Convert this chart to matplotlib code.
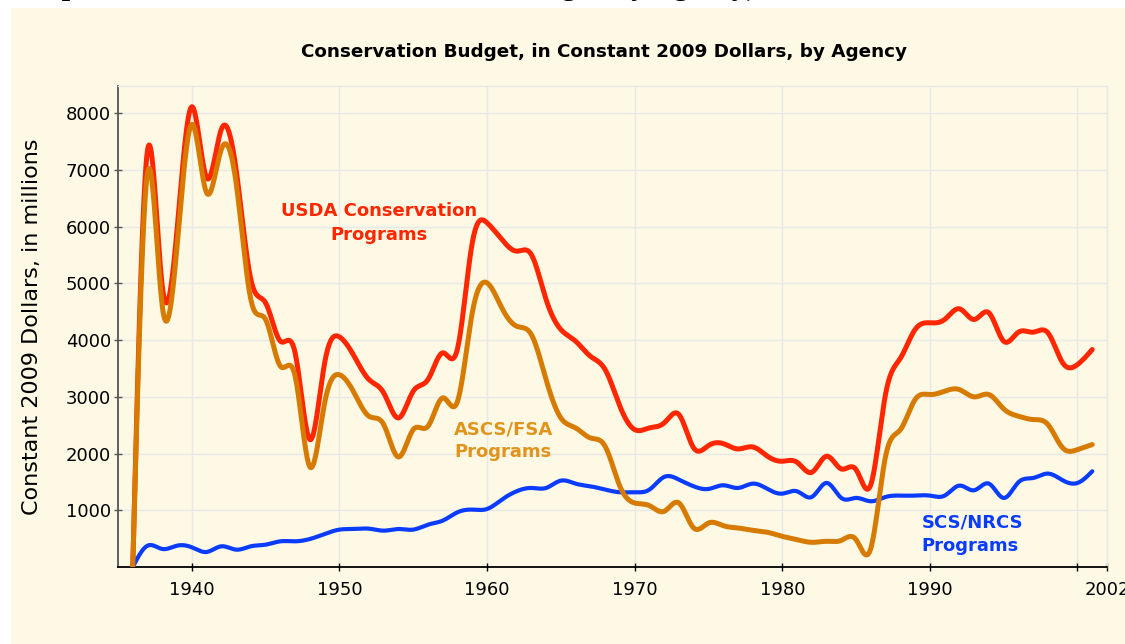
import numpy as np
import matplotlib
matplotlib.use("Agg")
import matplotlib.pyplot as plt
from matplotlib.patches import Rectangle

# ---------------- data ----------------
years = list(range(1936, 2002))

usda_total = [0, 7350, 4950, 5950, 8117, 6864, 7717, 7011, 5070, 4658,
              3982, 3776, 2247, 3600, 4058, 3717, 3306, 3070, 2629, 3100,
              3306, 3776, 3850, 5717, 6070, 5776, 5570, 5510, 4718, 4188,
              3982, 3717, 3482, 2835, 2423, 2453, 2541, 2688, 2100, 2141,
              2176, 2082, 2117, 1953, 1865, 1847, 1670, 1953, 1729, 1717,
              1453, 3050, 3680, 4188, 4306, 4365, 4553, 4365, 4482, 3982,
              4141, 4141, 4129, 3600, 3570, 3835]

ascs_fsa = [0, 6950, 4600, 5650, 7805, 6600, 7364, 6776, 4717, 4364,
            3541, 3364, 1765, 2894, 3390, 3070, 2659, 2512, 1941, 2423,
            2482, 2982, 2920, 4482, 5011, 4570, 4247, 4100, 3306, 2629,
            2453, 2276, 2129, 1423, 1129, 1082, 982, 1129, 688, 776,
            729, 688, 647, 612, 541, 482, 435, 453, 470, 482,
            330, 1953, 2420, 2953, 3041, 3100, 3129, 3000, 3041, 2788,
            2659, 2600, 2512, 2100, 2070, 2159]

scs_nrcs = [0, 376, 318, 376, 347, 265, 365, 306, 365, 394,
            453, 453, 494, 582, 659, 670, 676, 641, 670, 659,
            747, 818, 965, 1012, 1023, 1188, 1335, 1394, 1394, 1523,
            1470, 1423, 1365, 1318, 1318, 1365, 1588, 1541, 1423, 1376,
            1441, 1394, 1470, 1376, 1294, 1335, 1235, 1482, 1218, 1218,
            1159, 1235, 1259, 1259, 1259, 1259, 1435, 1353, 1470, 1218,
            1494, 1570, 1647, 1529, 1482, 1688]

ytick_vals = [1000, 2000, 3000, 4000, 5000, 6000, 7000, 8000]
xtick_vals = [1940, 1950, 1960, 1970, 1980, 1990, 2000, 2002]
xtick_labels = ["1940", "1950", "1960", "1970", "1980", "1990", "", "2002"]

title = "Conservation Budget, in Constant 2009 Dollars, by Agency"
ylabel = "Constant 2009 Dollars, in millions"


def natural_spline(x, y, n_per=20):
    x = np.asarray(x, float)
    y = np.asarray(y, float)
    n = len(x)
    h = np.diff(x)
    A = np.zeros((n, n))
    b = np.zeros(n)
    A[0, 0] = 1.0
    A[-1, -1] = 1.0
    for i in range(1, n - 1):
        A[i, i - 1] = h[i - 1]
        A[i, i] = 2 * (h[i - 1] + h[i])
        A[i, i + 1] = h[i]
        b[i] = 6 * ((y[i + 1] - y[i]) / h[i] - (y[i] - y[i - 1]) / h[i - 1])
    M = np.linalg.solve(A, b)
    xs = np.linspace(x[0], x[-1], (n - 1) * n_per + 1)
    idx = np.clip(np.searchsorted(x, xs) - 1, 0, n - 2)
    x0, x1 = x[idx], x[idx + 1]
    hh = x1 - x0
    t0 = x1 - xs
    t1 = xs - x0
    ys = (M[idx] * t0 ** 3 / (6 * hh) + M[idx + 1] * t1 ** 3 / (6 * hh)
          + (y[idx] / hh - M[idx] * hh / 6) * t0
          + (y[idx + 1] / hh - M[idx + 1] * hh / 6) * t1)
    return xs, ys


# ---------------- figure ----------------
W, H = 1125, 644
cream = "#FEF9E4"
red = "#FF2600"
orange = "#D67A00"
orange_txt = "#E0941C"
blue = "#0A3CFF"

fig = plt.figure(figsize=(W / 100, H / 100), dpi=100)
fig.patch.set_facecolor(cream)
# white page margins (top strip and left strip)
fig.patches.append(Rectangle((0, (H - 8) / H), 1, 8 / H, transform=fig.transFigure,
                             facecolor="white", edgecolor="none", zorder=-5))
fig.patches.append(Rectangle((0, 0), 11 / W, 1, transform=fig.transFigure,
                             facecolor="white", edgecolor="none", zorder=-5))

# cropped heading above the chart (only descenders visible)
fig.text(10 / W, 1 + 5 / H, "Graph", fontfamily="Liberation Serif", fontweight="bold",
         fontsize=21.6, va="baseline", ha="left", color="black")
fig.text(508 / W, 1 + 5 / H, "Budget, by Agency),", fontfamily="Liberation Serif",
         fontweight="bold", fontsize=21.6, va="baseline", ha="left", color="black")

ax = fig.add_axes([118 / W, (H - 567) / H, (1107 - 118) / W, (567 - 86) / H])
ax.set_zorder(2)
ax.set_facecolor(cream)

for vals, col, lw, z in [(usda_total, red, 3.6, 3), (scs_nrcs, blue, 3.0, 4),
                         (ascs_fsa, orange, 3.6, 5)]:
    xs, ys = natural_spline(years, vals)
    ax.plot(xs, ys, color=col, lw=lw, zorder=z, solid_capstyle="round",
            solid_joinstyle="round")

ax.set_xlim(1935, 2002)
ax.set_ylim(0, 8482)
ax.set_xticks(xtick_vals)
ax.set_xticklabels(xtick_labels)
ax.set_yticks(ytick_vals)
ax.grid(True, color="#E8E8E8", lw=1.0, zorder=0)
ax.set_axisbelow(True)

for s in ["top", "right"]:
    ax.spines[s].set_color("#E8E8E8")
    ax.spines[s].set_linewidth(1.0)
ax.spines["left"].set_color("#555555")
ax.spines["bottom"].set_color("black")
ax.spines["left"].set_linewidth(1.3)
ax.spines["bottom"].set_linewidth(1.3)

ax.tick_params(axis="both", direction="inout", length=6, width=1, colors="black",
               labelsize=13)
ax.tick_params(axis="x", pad=7)
ax.tick_params(axis="y", pad=2)
ax.tick_params(axis="y", color="#555555")

fig.text(604 / W, 1 - 52 / H, title, fontsize=13.2, fontweight="bold", ha="center",
         va="center", color="black")
fig.text(32 / W, 1 - 327 / H, ylabel, fontsize=16, rotation=90, ha="center",
         va="center", color="black")

ax.text(1952.68, 6065, "USDA Conservation\nPrograms", color=red, fontsize=13,
        fontweight="bold", ha="center", va="center", linespacing=1.4, zorder=6)
ax.text(1957.78, 2227, "ASCS/FSA\nPrograms", color=orange_txt, fontsize=13,
        fontweight="bold", ha="left", va="center", linespacing=1.35, zorder=6)
ax.text(1989.43, 580, "SCS/NRCS\nPrograms", color=blue, fontsize=13,
        fontweight="bold", ha="left", va="center", linespacing=1.35, zorder=6)

fig.savefig("out.png", dpi=100, facecolor=fig.get_facecolor())
